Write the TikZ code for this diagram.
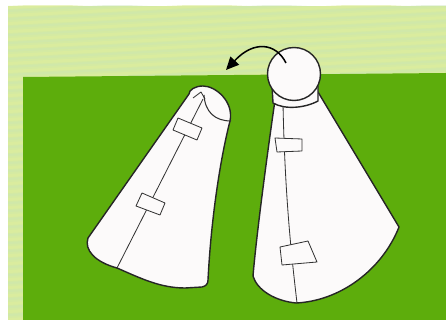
\documentclass[tikz,border=0pt]{standalone}
\usetikzlibrary{arrows.meta}

\definecolor{paleleaf}{HTML}{D4EAA3}
\definecolor{stripeyellow}{HTML}{DFEE9C}
\definecolor{stripeblue}{HTML}{CAE5B4}
\definecolor{grass}{HTML}{5DAD0C}
\definecolor{cloth}{HTML}{FCFAFA}

\begin{document}
\begin{tikzpicture}[x=0.03cm, y=-0.03cm,
    outline/.style={draw=black!85, line width=1.2pt, line join=round, fill=cloth},
    seam/.style={draw=black!80, line width=0.7pt, line join=round},
    tab/.style={seam, fill=cloth},
    ]

    \useasboundingbox[fill=white] (0,0) rectangle (446,320);

    % striped paper behind
    \fill[paleleaf] (8,6) rectangle (446,320);
    \begin{scope}
    \clip (8,6) rectangle (446,320);
    \foreach \k in {0,...,44} {
        \fill[stripeyellow, opacity=0.6] (8,6+8*\k) -- ++(438,-22) -- ++(0,3) -- ++(-438,22) -- cycle;
        \fill[stripeblue, opacity=0.4] (8,10+8*\k) -- ++(438,-22) -- ++(0,2) -- ++(-438,22) -- cycle;
    }
    \end{scope}

    % green card
    \fill[grass] (23,77) -- (446,73) -- (446,320) -- (23,320) -- cycle;

    % left cone, hood folded down
    \draw[outline] (189,94) -- (88,238)
        .. controls (84,250) and (95,262) .. (117,268)
        .. controls (140,278) and (160,288) .. (185,288) -- (202,287)
        .. controls (206,286) and (208,284) .. (208,280)
        .. controls (211,220) and (220,160) .. (230,121)
        .. controls (234,102) and (216,86) .. (203,86)
        .. controls (195,86) and (189,90) .. (189,94) -- cycle;
    \draw[seam] (203,99) -- (117,268);
    \draw[seam] (193,98) -- (201,92) -- (205,99);
    \draw[seam, line width=0.9pt] (204,95) .. controls (205,112) and (215,121) .. (231,121);
    \draw[tab] (178,118) -- (202,128) -- (197,140) -- (173,130) -- cycle;
    \draw[tab] (142,193) -- (165,203) -- (160,215) -- (136,206) -- cycle;

    % right cone
    \draw[outline] (275,100) .. controls (265,170) and (256,240) .. (253,276)
        .. controls (257,290) and (275,301) .. (296,303)
        .. controls (340,301) and (382,270) .. (399,227)
        -- (318,92) -- cycle;
    \draw[seam] (283,104) .. controls (285,200) and (292,260) .. (297,303);
    \draw[tab] (275,138) -- (302,139) -- (302,151) -- (277,152) -- cycle;
    \draw[tab] (280,247) -- (308,241) -- (317,262) -- (282,265) -- cycle;

    % collar and head
    \draw[outline] (272,86) -- (273,103)
        .. controls (285,110) and (305,108) .. (318,101) -- (318,86);
    \node[outline, circle, minimum size=53*0.03cm, inner sep=0pt] (head) at (294,74) {};

    % hood goes over the head
    \coordinate (pull) at (286,63);
    \coordinate (tip) at (226,70);
    \draw[line width=1.3pt, -{Triangle[length=11pt, width=10pt]}]
        (pull) .. controls (276,43) and (254,40) .. (tip);
\end{tikzpicture}
\end{document}
